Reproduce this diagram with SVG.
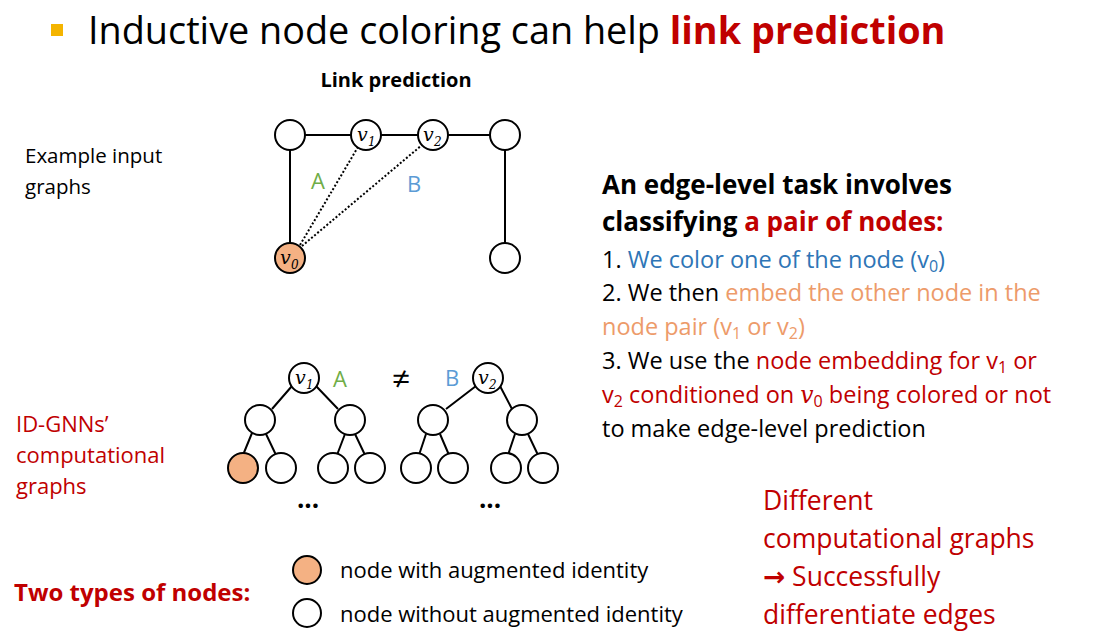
<svg xmlns="http://www.w3.org/2000/svg" width="1098" height="643" viewBox="0 0 1098 643">
<style>
text{font-family:"Open Sans","Noto Sans","Liberation Sans",sans-serif}
.n{fill:#fff;stroke:#000;stroke-width:2}
.o{fill:#f4b183;stroke:#000;stroke-width:2}
.e{stroke:#000;stroke-width:2;fill:none}
.d{stroke:#000;stroke-width:2;stroke-dasharray:2 2;fill:none}
.v{font-family:"DejaVu Serif","Liberation Serif",serif;font-style:italic;font-size:19px}
.s{font-family:"DejaVu Serif","Liberation Serif",serif;font-style:italic;font-size:12px}
.r{fill:#c00000}.b{fill:#2e75b6}.g{fill:#70ad47}.or{fill:#ed9b6a}.lb{fill:#5b9bd5}
</style>
<rect width="1098" height="643" fill="#fff"/>
<rect x="51" y="24" width="12" height="12" fill="#f4b400"/>
<text x="88" y="44" font-size="37.8">Inductive node coloring can help <tspan class="r" font-weight="bold">link prediction</tspan></text>
<text x="396" y="87" font-size="20" font-weight="bold" text-anchor="middle">Link prediction</text>
<text x="25" y="163" font-size="20.5">Example input</text>
<text x="25" y="194" font-size="20.5">graphs</text>
<g id="connectors">
<path class="e" d="M305 135H351M381 135H418M448 135H490M290 150V243M505 150V243"/>
<path class="d" d="M300 245L358 147M302 246L422 145"/>
<path class="e" d="M292 386L272 409M316 386L338 409M252 433L243 455M266 434L276 455M345 434L337 455M355 434L365 455M476 386L446 409M500 386L512 409M426 434L419 455M440 434L449 455M515 434L508 455M528 434L538 455"/>
</g>
<g id="n_a"><circle class="n" cx="290" cy="135" r="15"/></g>
<g id="n_v1"><circle class="n" cx="366" cy="135" r="15"/><text class="v" x="357" y="141">v</text><text class="s" x="368" y="146">1</text></g>
<g id="n_v2"><circle class="n" cx="433" cy="135" r="15"/><text class="v" x="423" y="141">v</text><text class="s" x="434" y="146">2</text></g>
<g id="n_b"><circle class="n" cx="505" cy="135" r="15"/></g>
<g id="n_v0"><circle class="o" cx="290" cy="258" r="15"/><text class="v" x="280" y="264">v</text><text class="s" x="291" y="269">0</text></g>
<g id="n_c"><circle class="n" cx="505" cy="258" r="15"/></g>
<text class="g" x="311" y="189" font-size="22">A</text>
<text class="lb" x="407" y="192" font-size="22">B</text>
<text x="602" y="194" font-size="26" font-weight="bold">An edge-level task involves</text>
<text x="602" y="231" font-size="26" font-weight="bold">classifying <tspan class="r">a pair of nodes:</tspan></text>
<text x="602" y="268" font-size="23.5">1. <tspan class="b">We color one of the node (v<tspan font-size="16" dy="4">0</tspan><tspan dy="-4">)</tspan></tspan></text>
<text x="602" y="301" font-size="23.5">2. We then <tspan class="or">embed the other node in the</tspan></text>
<text class="or" x="602" y="335" font-size="23.5">node pair (v<tspan font-size="16" dy="4">1</tspan><tspan dy="-4"> or v</tspan><tspan font-size="16" dy="4">2</tspan><tspan dy="-4">)</tspan></text>
<text x="602" y="369" font-size="23.5">3. We use the <tspan class="r">node embedding for v<tspan font-size="16" dy="4">1</tspan><tspan dy="-4"> or</tspan></tspan></text>
<text class="r" x="602" y="403" font-size="23.5">v<tspan font-size="16" dy="4">2</tspan><tspan dy="-4"> conditioned on </tspan><tspan font-family="DejaVu Serif,serif" font-style="italic">v</tspan><tspan font-size="16" dy="4">0</tspan><tspan dy="-4"> being colored or not</tspan></text>
<text x="602" y="437" font-size="23.5">to make edge-level prediction</text>
<g id="t1_root"><circle class="n" cx="304" cy="378" r="15"/><text class="v" x="295" y="384">v</text><text class="s" x="306" y="389">1</text></g>
<g id="t1_l"><circle class="n" cx="260" cy="420" r="15"/></g>
<g id="t1_r"><circle class="n" cx="350" cy="420" r="15"/></g>
<g id="t1_ll"><circle class="o" cx="243" cy="468" r="15"/></g>
<g id="t1_lr"><circle class="n" cx="281" cy="468" r="15"/></g>
<g id="t1_rl"><circle class="n" cx="333" cy="468" r="15"/></g>
<g id="t1_rr"><circle class="n" cx="370" cy="468" r="15"/></g>
<g id="t2_root"><circle class="n" cx="488" cy="378" r="15"/><text class="v" x="478" y="384">v</text><text class="s" x="489" y="389">2</text></g>
<g id="t2_l"><circle class="n" cx="433" cy="420" r="15"/></g>
<g id="t2_r"><circle class="n" cx="522" cy="420" r="15"/></g>
<g id="t2_ll"><circle class="n" cx="416" cy="468" r="15"/></g>
<g id="t2_lr"><circle class="n" cx="453" cy="468" r="15"/></g>
<g id="t2_rl"><circle class="n" cx="506" cy="468" r="15"/></g>
<g id="t2_rr"><circle class="n" cx="543" cy="468" r="15"/></g>
<text class="g" x="333" y="387" font-size="22">A</text>
<text x="401" y="390" font-size="32" text-anchor="middle" font-family="DejaVu Sans,sans-serif">≠</text>
<text class="lb" x="445" y="386" font-size="22">B</text>
<text x="308" y="508" font-size="26" font-weight="bold" text-anchor="middle">...</text>
<text x="490" y="508" font-size="26" font-weight="bold" text-anchor="middle">...</text>
<text class="r" x="16" y="432" font-size="22">ID-GNNs’</text>
<text class="r" x="16" y="463" font-size="22">computational</text>
<text class="r" x="16" y="494" font-size="22">graphs</text>
<text class="r" x="763" y="510" font-size="26.5">Different</text>
<text class="r" x="763" y="548" font-size="26.5">computational graphs</text>
<text class="r" x="763" y="586" font-size="26.5"><tspan font-family="DejaVu Sans,sans-serif" font-weight="bold">→</tspan> Successfully</text>
<text class="r" x="763" y="624" font-size="26.5">differentiate edges</text>
<text class="r" x="14" y="601" font-size="24" font-weight="bold">Two types of nodes:</text>
<g id="legend_o"><circle class="o" cx="307" cy="570" r="14"/></g>
<text x="340" y="578" font-size="22">node with augmented identity</text>
<g id="legend_w"><circle class="n" cx="307" cy="613" r="14"/></g>
<text x="340" y="622" font-size="22">node without augmented identity</text>
</svg>
